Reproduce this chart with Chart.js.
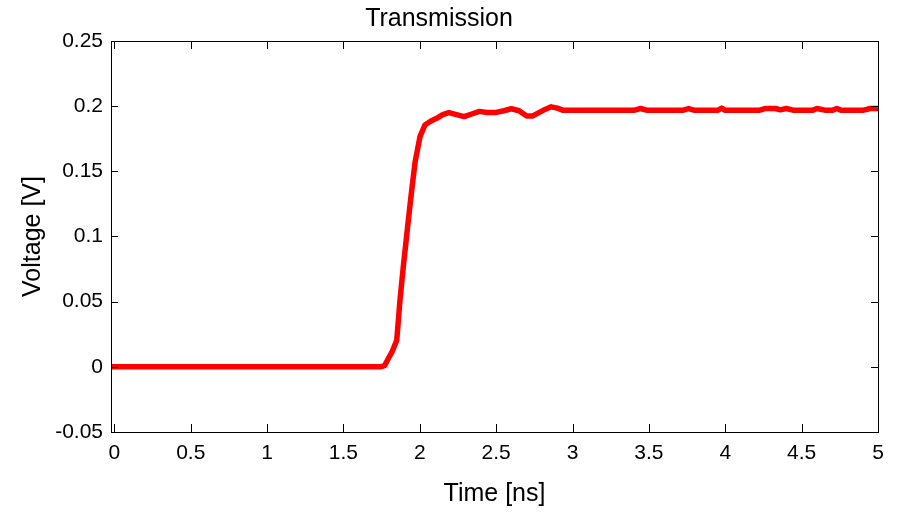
<!DOCTYPE html>
<html>
<head>
<meta charset="utf-8">
<script src="https://cdn.jsdelivr.net/npm/chart.js@4"></script>
<style>
  body { margin: 0; background: #fff; }
  canvas { display: block; }
</style>
</head>
<body>
<canvas id="chart" width="898" height="512"></canvas>
<script>
// data
const times = [-0.022, 0.5, 1.0, 1.5, 1.74, 1.77, 1.794, 1.82, 1.849, 1.87, 1.892, 1.925, 1.947, 1.969,
  2.001, 2.034, 2.07, 2.11, 2.15, 2.19, 2.24, 2.29, 2.34, 2.39, 2.44, 2.5, 2.55, 2.6, 2.65, 2.7,
  2.74, 2.78, 2.82, 2.86, 2.9, 2.94, 3.0, 3.4, 3.446, 3.49, 3.72, 3.76, 3.8, 3.95, 3.977, 4.0,
  4.22, 4.26, 4.33, 4.36, 4.4, 4.45, 4.57, 4.6, 4.66, 4.7, 4.73, 4.76, 4.9, 4.95, 5.0];
const volts = [0, 0, 0, 0, 0, 0.001, 0.0064, 0.012, 0.0204, 0.051, 0.077, 0.1126, 0.1356, 0.157,
  0.1766, 0.1856, 0.1885, 0.1907, 0.1935, 0.195, 0.1935, 0.192, 0.194, 0.196, 0.1952, 0.1952, 0.1965, 0.198, 0.1965, 0.1925,
  0.1925, 0.195, 0.1975, 0.1995, 0.1985, 0.1968, 0.1968, 0.1968, 0.1982, 0.1968, 0.1968, 0.1982, 0.1968, 0.1968, 0.1985, 0.1968,
  0.1968, 0.1982, 0.1982, 0.1972, 0.1982, 0.1968, 0.1968, 0.1982, 0.1968, 0.1968, 0.1982, 0.1968, 0.1968, 0.1982, 0.1982];

const xTicks = [0, 0.5, 1, 1.5, 2, 2.5, 3, 3.5, 4, 4.5, 5];
const xTickLabels = ['0', '0.5', '1', '1.5', '2', '2.5', '3', '3.5', '4', '4.5', '5'];
const yTicks = [-0.05, 0, 0.05, 0.1, 0.15, 0.2, 0.25];
const yTickLabels = ['-0.05', '0', '0.05', '0.1', '0.15', '0.2', '0.25'];

const FONT = "'Liberation Sans', Arial, sans-serif";

// MATLAB style box with inward ticks on all four sides
const boxTicks = {
    id: 'boxTicks',
    afterDraw(chart) {
        const ctx = chart.ctx;
        const a = chart.chartArea;
        const xs = chart.scales.x;
        const ys = chart.scales.y;
        ctx.save();
        ctx.strokeStyle = '#000';
        ctx.lineWidth = 1;
        ctx.beginPath();
        xTicks.forEach(v => {
            const px = Math.round(xs.getPixelForValue(v)) + 0.5;
            ctx.moveTo(px, a.bottom); ctx.lineTo(px, a.bottom - 8);
            ctx.moveTo(px, a.top); ctx.lineTo(px, a.top + 8);
        });
        yTicks.forEach(v => {
            const py = Math.round(ys.getPixelForValue(v)) + 0.5;
            ctx.moveTo(a.left, py); ctx.lineTo(a.left + 7, py);
            ctx.moveTo(a.right, py); ctx.lineTo(a.right - 7, py);
        });
        ctx.stroke();
        ctx.strokeRect(Math.round(a.left) + 0.5, Math.round(a.top) + 0.5,
            Math.round(a.right - a.left), Math.round(a.bottom - a.top));
        ctx.restore();
    }
};

new Chart(document.getElementById('chart').getContext('2d'), {
    type: 'line',
    data: {
        datasets: [{
            data: times.map((t, i) => ({ x: t, y: volts[i] })),
            borderColor: '#ff0000',
            borderWidth: 5.5,
            borderJoinStyle: 'round',
            pointRadius: 0,
            tension: 0,
            fill: false
        }]
    },
    options: {
        responsive: false,
        animation: false,
        layout: { padding: { top: 0, right: 20, left: 0, bottom: 0 } },
        plugins: {
            legend: { display: false },
            tooltip: { enabled: false },
            title: {
                display: true,
                text: 'Transmission',
                color: '#000',
                font: { family: FONT, size: 25, weight: 'normal' },
                padding: { top: 4, bottom: 7 }
            }
        },
        scales: {
            x: {
                type: 'linear',
                min: -0.022,
                max: 5,
                afterBuildTicks: s => { s.ticks = xTicks.map(v => ({ value: v })); },
                afterFit: s => { s.height = 80; },
                grid: { display: false, drawTicks: false },
                border: { display: false },
                ticks: {
                    color: '#000',
                    font: { family: FONT, size: 21 },
                    padding: 9,
                    maxRotation: 0,
                    autoSkip: false,
                    callback: (v, i) => xTickLabels[i]
                },
                title: {
                    display: true,
                    text: 'Time [ns]',
                    color: '#000',
                    font: { family: FONT, size: 25 },
                    padding: { top: 0, bottom: 3 }
                }
            },
            y: {
                min: -0.05,
                max: 0.25,
                afterBuildTicks: s => { s.ticks = yTicks.map(v => ({ value: v })); },
                afterFit: s => { s.width = 111; },
                grid: { display: false, drawTicks: false },
                border: { display: false },
                ticks: {
                    color: '#000',
                    font: { family: FONT, size: 21 },
                    padding: 8,
                    autoSkip: false,
                    callback: (v, i) => yTickLabels[i]
                },
                title: {
                    display: true,
                    text: 'Voltage [V]',
                    color: '#000',
                    font: { family: FONT, size: 25 },
                    padding: { top: 18, bottom: 0 }
                }
            }
        }
    },
    plugins: [boxTicks]
});
</script>
</body>
</html>
